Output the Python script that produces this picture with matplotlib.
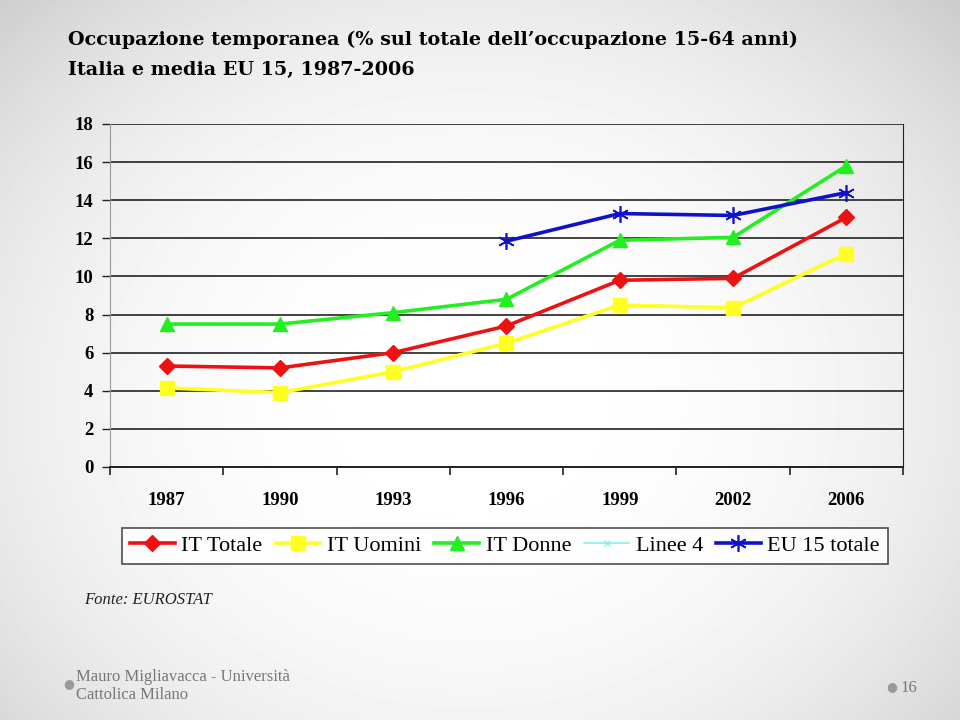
import numpy as np
import matplotlib
matplotlib.use("Agg")
import matplotlib.pyplot as plt
from matplotlib.lines import Line2D

years = ["1987", "1990", "1993", "1996", "1999", "2002", "2006"]
it_totale = [5.3, 5.2, 6.0, 7.4, 9.8, 9.9, 13.1]
it_uomini = [4.15, 3.9, 5.0, 6.5, 8.5, 8.35, 11.2]
it_donne = [7.5, 7.5, 8.1, 8.8, 11.9, 12.05, 15.8]
eu15_totale = [np.nan, np.nan, np.nan, 11.85, 13.3, 13.2, 14.4]

serif = "Liberation Serif"

fig = plt.figure(figsize=(9.6, 7.2), dpi=100)

# slide background: light radial gradient, gray only near the edges
bg = fig.add_axes([0, 0, 1, 1], zorder=-10)
yy, xx = np.mgrid[0:720, 0:960]
r = np.sqrt(((xx - 470) / 620.0) ** 2 + ((yy - 400) / 520.0) ** 2)
shade = np.clip(1.0 - 0.16 * r ** 2.5, 0.80, 1.0)
bg.imshow(shade, cmap="gray", vmin=0, vmax=1, aspect="auto", extent=[0, 1, 0, 1])
bg.axis("off")

ax = fig.add_axes([0.1146, 0.3514, 0.8260, 0.4764])
ax.patch.set_alpha(0)
x = np.arange(len(years))

ax.plot(x, it_totale, color="#ee1111", lw=2.6, marker="D", ms=8, label="IT Totale")
ax.plot(x, it_uomini, color="#ffff22", lw=2.6, marker="s", ms=10, label="IT Uomini")
ax.plot(x, it_donne, color="#22ee22", lw=2.6, marker="^", ms=10, label="IT Donne")
ax.plot(x, eu15_totale, color="#1111cc", lw=2.6, marker=(6, 2, 0), ms=12, mew=1.2,
        label="EU 15 totale")

ax.set_xlim(-0.5, len(years) - 0.5)
ax.set_ylim(0, 18)
ax.set_yticks(range(0, 19, 2))
ax.yaxis.grid(True, color="#222222", lw=1.2)
ax.set_axisbelow(True)
ax.tick_params(axis="y", length=6, width=1, color="#222222", pad=6)
ax.set_xticks(np.arange(-0.5, len(years), 1.0))
ax.set_xticklabels([])
ax.set_xticks(x, minor=True)
ax.set_xticklabels(years, minor=True)
ax.tick_params(axis="x", which="major", length=6, width=1.2, color="#222222")
ax.tick_params(axis="x", which="minor", length=0, pad=18)
for lab in ax.get_yticklabels() + ax.get_xticklabels(minor=True):
    lab.set_fontfamily(serif)
    lab.set_fontweight("bold")
    lab.set_fontsize(13.5)
ax.spines["top"].set_visible(False)
ax.spines["left"].set_color("#999999")
ax.spines["right"].set_color("#222222")
ax.spines["bottom"].set_color("#222222")
ax.spines["bottom"].set_linewidth(1.4)

handles = [
    Line2D([], [], color="#ee1111", lw=2.6, marker="D", ms=8),
    Line2D([], [], color="#ffff22", lw=2.6, marker="s", ms=10),
    Line2D([], [], color="#22ee22", lw=2.6, marker="^", ms=10),
    Line2D([], [], color="#88eeee", lw=1.2, marker="x", ms=5),
    Line2D([], [], color="#1111cc", lw=2.6, marker=(6, 2, 0), ms=12, mew=1.2),
]
labels = ["IT Totale", "IT Uomini", "IT Donne", "Linee 4", "EU 15 totale"]
leg = fig.legend(handles, labels, loc="center", bbox_to_anchor=(0.526, 0.2417),
                 ncol=5, frameon=True, fancybox=False, handlelength=2.0,
                 handletextpad=0.3, columnspacing=0.6, borderpad=0.35,
                 prop={"family": serif, "size": 16})
leg.get_frame().set_edgecolor("#222222")
leg.get_frame().set_linewidth(1.2)
leg.get_frame().set_facecolor("white")

fig.text(0.071, 0.944, "Occupazione temporanea (% sul totale dell\u2019occupazione 15-64 anni)",
         family="DejaVu Serif", weight="bold", fontsize=13.8, va="center")
fig.text(0.071, 0.903, "Italia e media EU 15, 1987-2006",
         family="DejaVu Serif", weight="bold", fontsize=13.8, va="center")
fig.text(0.088, 0.166, "Fonte: EUROSTAT", family=serif, style="italic", fontsize=12,
         va="center", color="#222222")

fig.text(0.079, 0.047, "Mauro Migliavacca - Universit\u00e0\nCattolica Milano",
         family=serif, fontsize=12, color="#777777", va="center", linespacing=1.2)
fig.text(0.066, 0.05, "\u25cf", fontsize=9, color="#999999", va="center")
fig.text(0.923, 0.046, "\u25cf", fontsize=9, color="#999999", va="center")
fig.text(0.938, 0.045, "16", family=serif, fontsize=12, color="#777777", va="center")

fig.savefig("out.png", dpi=100)
